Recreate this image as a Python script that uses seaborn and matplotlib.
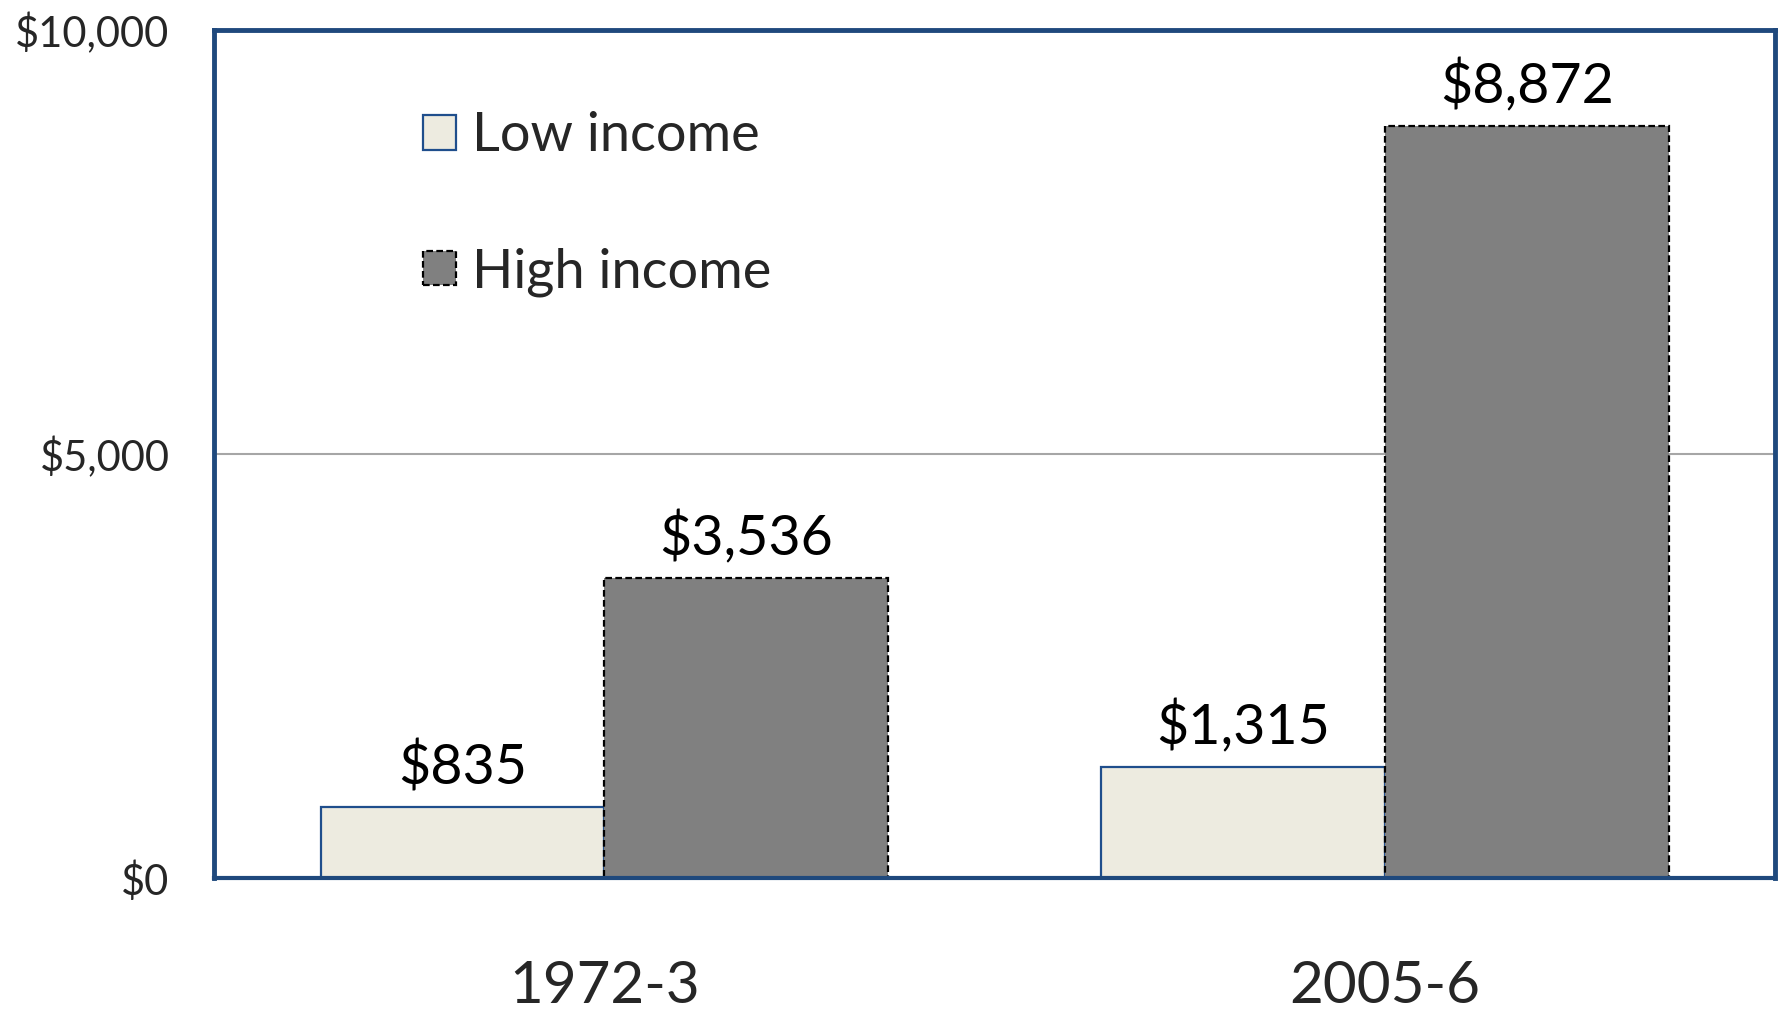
import matplotlib
matplotlib.use("Agg")
import matplotlib.pyplot as plt
import seaborn as sns
import pandas as pd
from matplotlib.patches import Patch

periods = ["1972-3", "2005-6"]
low_income = [835, 1315]
high_income = [3536, 8872]
series_names = ["Low income", "High income"]
y_ticks = [0, 5000, 10000]

df = pd.DataFrame({
    "period": periods * 2,
    "value": low_income + high_income,
    "group": [series_names[0]] * len(periods) + [series_names[1]] * len(periods),
})

sns.set_theme(style="white")
plt.rcParams["font.family"] = ["Lato", "DejaVu Sans"]

fig = plt.figure(figsize=(17.79, 10.15), dpi=100)
ax = fig.add_axes([0.1203, 0.135, 0.8777, 0.835])

low_face, low_edge = "#EDEBE0", "#1F4E8C"
high_face, high_edge = "#808080", "#000000"

sns.barplot(data=df, x="period", y="value", hue="group", hue_order=series_names,
            palette=[low_face, high_face], width=0.727, ax=ax, legend=False,
            saturation=1)

styles = [(low_edge, "solid", 1.6), (high_edge, (0, (3, 1.5)), 1.6)]
for cont, (ec, ls, lw) in zip(ax.containers, styles):
    for bar in cont:
        bar.set_edgecolor(ec)
        bar.set_linestyle(ls)
        bar.set_linewidth(lw)
    ax.bar_label(cont, labels=[f"${v:,.0f}" for v in cont.datavalues],
                 padding=9, fontsize=40, color="black")

ax.set_xlim(-0.5, 1.5)
ax.set_ylim(0, 10000)
ax.set_yticks(y_ticks)
ax.set_yticklabels([f"${v:,.0f}" for v in y_ticks], fontsize=30)
ax.tick_params(axis="y", length=0, pad=32)
ax.tick_params(axis="x", length=0, pad=59, labelsize=42)
ax.set_xlabel("")
ax.set_ylabel("")

ax.set_axisbelow(True)
ax.yaxis.grid(True, color="#A6A6A6", linewidth=1.5)
ax.xaxis.grid(False)

for side in ["left", "top", "right"]:
    ax.spines[side].set_color("#1F497D")
    ax.spines[side].set_linewidth(3.5)
ax.spines["bottom"].set_color("#1F497D")
ax.spines["bottom"].set_linewidth(3)

handles = [
    Patch(facecolor=low_face, edgecolor=low_edge, linewidth=1.6, label=series_names[0]),
    Patch(facecolor=high_face, edgecolor=high_edge, linewidth=1.6,
          linestyle=(0, (3, 1.5)), label=series_names[1]),
]
ax.legend(handles=handles, loc="upper left", bbox_to_anchor=(0.12, 0.93),
          frameon=False, fontsize=39, handlelength=0.6, handleheight=0.6,
          handletextpad=0.3, labelspacing=1.6, borderaxespad=0)

fig.savefig("out.png", dpi=100)
